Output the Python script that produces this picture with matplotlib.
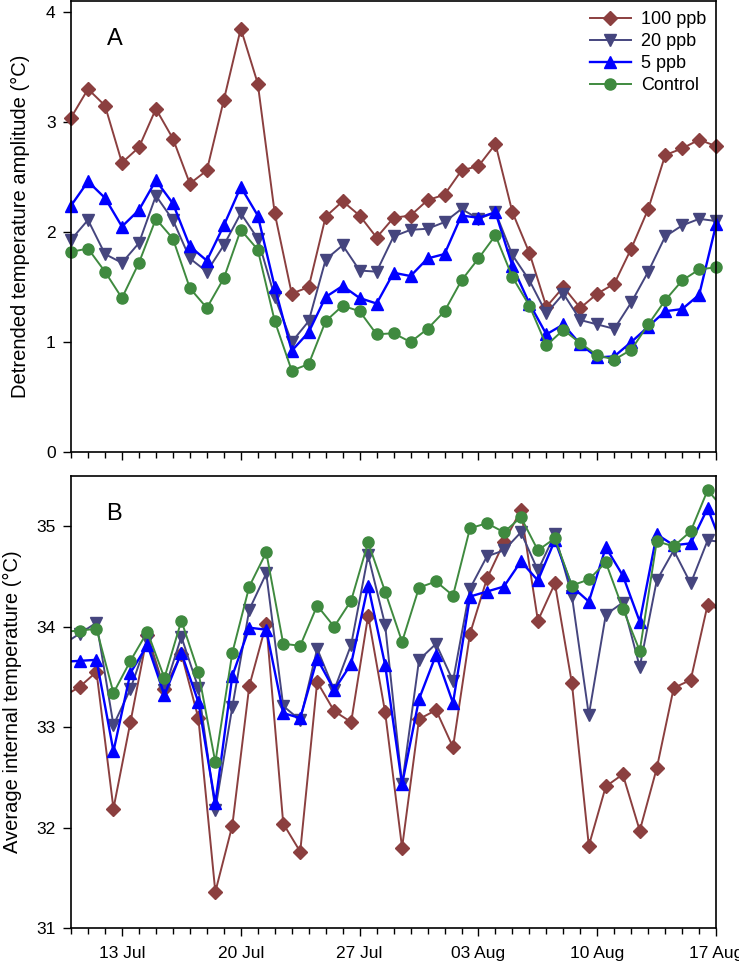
import matplotlib
matplotlib.use("Agg")
import matplotlib.pyplot as plt
import matplotlib.dates as mdates
import numpy as np
import datetime as dt

plt.rcParams['font.family'] = ['Liberation Sans', 'DejaVu Sans']

# panel A: one value per day, 10 Jul - 17 Aug
amp_100 = [3.04, 3.30, 3.15, 2.63, 2.77, 3.12, 2.85, 2.44, 2.56, 3.20,
           3.85, 3.35, 2.17, 1.44, 1.50, 2.14, 2.28, 2.15, 1.95, 2.13,
           2.15, 2.29, 2.34, 2.56, 2.60, 2.80, 2.18, 1.81, 1.32, 1.50,
           1.31, 1.44, 1.53, 1.85, 2.21, 2.70, 2.76, 2.84, 2.78]
amp_20 = [1.93, 2.11, 1.80, 1.72, 1.90, 2.33, 2.11, 1.76, 1.64, 1.88,
          2.17, 1.94, 1.41, 1.00, 1.19, 1.75, 1.88, 1.65, 1.64, 1.96,
          2.02, 2.03, 2.09, 2.21, 2.12, 2.18, 1.79, 1.56, 1.26, 1.44,
          1.20, 1.16, 1.12, 1.36, 1.64, 1.96, 2.06, 2.12, 2.10]
amp_5 = [2.24, 2.46, 2.31, 2.05, 2.20, 2.47, 2.26, 1.87, 1.74, 2.06,
         2.41, 2.15, 1.50, 0.92, 1.09, 1.41, 1.51, 1.40, 1.35, 1.63,
         1.60, 1.76, 1.80, 2.15, 2.13, 2.18, 1.69, 1.35, 1.07, 1.16,
         0.98, 0.86, 0.87, 1.00, 1.14, 1.28, 1.30, 1.43, 2.07]
amp_ctrl = [1.82, 1.85, 1.64, 1.40, 1.72, 2.12, 1.94, 1.49, 1.31, 1.58,
            2.02, 1.84, 1.19, 0.74, 0.80, 1.19, 1.33, 1.28, 1.07, 1.08,
            1.00, 1.12, 1.28, 1.56, 1.76, 1.97, 1.59, 1.33, 0.97, 1.11,
            0.99, 0.88, 0.84, 0.93, 1.16, 1.38, 1.56, 1.66, 1.68]

# panel B: daily means plotted at midday, 9 Jul - 17 Aug (ends clipped)
temp_100 = [33.30, 33.40, 33.55, 32.19, 33.05, 33.92, 33.38, 33.73, 33.09, 31.36,
            32.02, 33.41, 34.03, 32.04, 31.76, 33.45, 33.16, 33.05, 34.11, 33.15,
            31.80, 33.08, 33.17, 32.80, 33.93, 34.48, 34.84, 35.16, 34.06, 34.43,
            33.44, 31.82, 32.41, 32.53, 31.97, 32.59, 33.39, 33.47, 34.22, 34.15]
temp_20 = [33.82, 33.93, 34.04, 33.02, 33.38, 33.87, 33.37, 33.90, 33.39, 32.18,
           33.20, 34.17, 34.53, 33.21, 33.07, 33.78, 33.37, 33.82, 34.71, 34.02,
           32.43, 33.67, 33.83, 33.46, 34.38, 34.70, 34.76, 34.94, 34.56, 34.92,
           34.31, 33.12, 34.12, 34.24, 33.60, 34.46, 34.76, 34.43, 34.86, 34.84]
temp_5 = [33.65, 33.66, 33.67, 32.76, 33.54, 33.82, 33.32, 33.74, 33.25, 32.24,
          33.51, 33.99, 33.97, 33.14, 33.09, 33.68, 33.37, 33.63, 34.41, 33.62,
          32.43, 33.28, 33.72, 33.24, 34.30, 34.35, 34.40, 34.65, 34.46, 34.86,
          34.40, 34.25, 34.79, 34.51, 34.05, 34.92, 34.81, 34.83, 35.18, 34.74]
temp_ctrl = [33.95, 33.96, 33.98, 33.34, 33.66, 33.95, 33.49, 34.06, 33.55, 32.65,
             33.74, 34.40, 34.74, 33.83, 33.81, 34.21, 34.00, 34.26, 34.84, 34.35,
             33.85, 34.39, 34.45, 34.31, 34.98, 35.03, 34.94, 35.09, 34.76, 34.88,
             34.41, 34.47, 34.64, 34.18, 33.76, 34.85, 34.80, 34.95, 35.36, 35.16]

labels = ["100 ppb", "20 ppb", "5 ppb", "Control"]
colors = ["#8b3f3f", "#45457e", "#0000ff", "#3f8a3f"]
markers = ["D", "v", "^", "o"]
msizes = [7, 9, 9, 8]

start = dt.datetime(2014, 7, 10)
days_a = [start + dt.timedelta(days=i) for i in range(len(amp_100))]
days_b = [start + dt.timedelta(days=i - 0.5) for i in range(len(temp_100))]

fig = plt.figure(figsize=(7.39, 9.63), dpi=100)
ax1 = fig.add_axes([0.0961, 0.5306, 0.873, 0.4683])
ax2 = fig.add_axes([0.0961, 0.0363, 0.873, 0.4694])

for y, lab, c, m, ms in zip([amp_100, amp_20, amp_5, amp_ctrl], labels, colors, markers, msizes):
    ax1.plot(days_a, y, color=c, marker=m, markersize=ms, lw=1.7 if c == "#0000ff" else 1.4,
             label=lab, clip_on=False)
for y, c, m, ms in zip([temp_100, temp_20, temp_5, temp_ctrl], colors, markers, msizes):
    ax2.plot(days_b, y, color=c, marker=m, markersize=ms, lw=1.7 if c == "#0000ff" else 1.4)

ax1.set_ylim(0, 4.1)
ax1.set_yticks([0, 1, 2, 3, 4])
ax2.set_ylim(31, 35.5)
ax2.set_yticks([31, 32, 33, 34, 35])

# weekly labelled ticks, daily minor ticks
weekly = [dt.datetime(2014, 7, 13) + dt.timedelta(days=7 * i) for i in range(6)]
for ax in (ax1, ax2):
    ax.set_xlim(dt.datetime(2014, 7, 10), dt.datetime(2014, 8, 17))
    ax.set_xticks(weekly)
    ax.xaxis.set_minor_locator(mdates.DayLocator())
    ax.xaxis.set_major_formatter(mdates.DateFormatter("%d %b"))
    ax.tick_params(axis='both', which='major', direction='out', length=6, width=1, labelsize=12.5)
    ax.tick_params(axis='y', which='major', pad=5)
    ax.tick_params(axis='x', which='major', pad=7)
    ax.tick_params(axis='x', which='minor', direction='out', length=4, width=1)
    for s in ax.spines.values():
        s.set_linewidth(1.2)
ax1.set_xticklabels([])

ax1.set_ylabel("Detrended temperature amplitude (\u00b0C)", fontsize=14.5)
ax2.set_ylabel("Average internal temperature (\u00b0C)", fontsize=14.5)
ax1.yaxis.set_label_coords(-0.064, 0.5)
ax2.yaxis.set_label_coords(-0.076, 0.5)

ax1.text(0.056, 0.94, "A", transform=ax1.transAxes, fontsize=17, va='top', ha='left')
ax2.text(0.054, 0.94, "B", transform=ax2.transAxes, fontsize=17, va='top', ha='left')

ax1.legend(loc='upper right', frameon=False, fontsize=13, handlelength=2.3,
           handletextpad=0.55, labelspacing=0.28, borderaxespad=0.15)

fig.savefig("out.png", dpi=100)
